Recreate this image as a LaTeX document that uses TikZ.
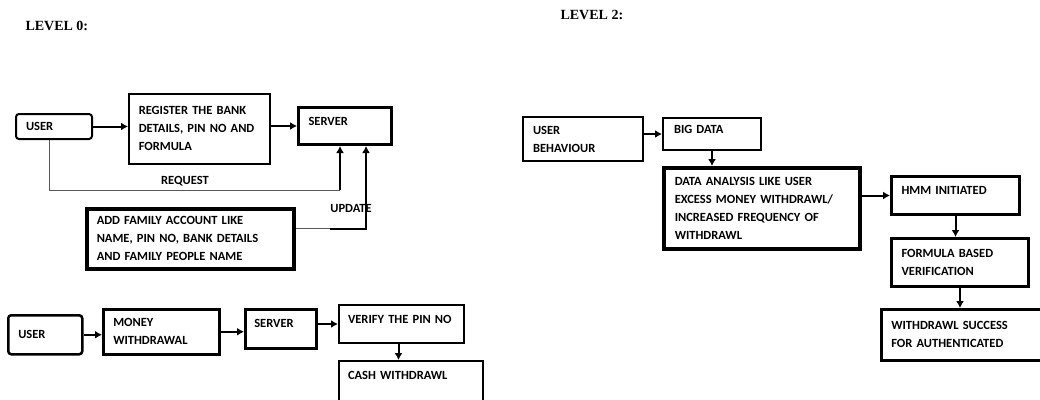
\documentclass[tikz,border=0pt]{standalone}
\usepackage{fontspec}
\setmainfont{Carlito}
\newfontfamily\levelfont{Liberation Serif}
\usetikzlibrary{arrows.meta}

\begin{document}
\begin{tikzpicture}[x=1pt, y=-1pt,
    box/.style={draw, anchor=north west, align=left, inner xsep=10pt,
      font=\fontsize{12.5}{18}\selectfont\bfseries},
    upper/.style={text depth=10pt},
    lbl/.style={font=\fontsize{12.5}{18}\selectfont\bfseries},
    lvl/.style={anchor=west, font=\levelfont\bfseries\fontsize{14}{16}\selectfont},
    arr/.style={line width=2pt, -{Latex[length=7pt,width=8pt]}},
    thinline/.style={draw=black!65, line width=1pt}]
  \useasboundingbox (0,0) rectangle (1040,399);

  \node [lvl] (lvlzero) at (22,26) {LEVEL 0:};
  \node [lvl] (lvltwo) at (557,15) {LEVEL 2:};

  % level 0, registration
  \node [box, line width=2pt, rounded corners=3pt, minimum width=76pt, minimum height=25pt, text width=56pt] (userA) at (15,113) {USER};
  \node [box, line width=1.5pt, minimum width=141pt, minimum height=70pt, text width=121pt] (regA) at (128,93) {REGISTER THE BANK\\DETAILS, PIN NO AND\\FORMULA};
  \node [box, upper, line width=3pt, minimum width=93pt, minimum height=37pt, text width=73pt, inner xsep=8pt] (serverA) at (297,106) {SERVER};
  \node [box, line width=3.5pt, minimum width=207pt, minimum height=60pt, text width=187pt] (addA) at (85,207) {ADD FAMILY ACCOUNT LIKE\\NAME, PIN NO, BANK DETAILS\\AND FAMILY PEOPLE NAME};

  \draw [arr] (userA.east) -- (userA.east -| regA.west);
  \draw [arr] (regA.east |- serverA.west) -- (serverA.west);

  \coordinate (reqbend) at (340,190);
  \draw [thinline] ([shift={(-5,0)}]userA.south) |- (reqbend);
  \draw [arr] (reqbend) -- (reqbend |- serverA.south);
  \node [lbl] (req) at (185,181) {REQUEST};

  \draw [thinline] ([shift={(0,-10)}]addA.east) -- ++(34,0) coordinate (updbend);
  \draw [arr] (updbend) -| ([shift={(21,0)}]serverA.south);
  \node [lbl] (upd) at (351,208.5) {UPDATE};

  % level 0, withdrawal
  \node [box, line width=2.5pt, rounded corners=3pt, minimum width=74pt, minimum height=39pt, text width=54pt] (userB) at (7,314) {USER};
  \node [box, line width=2.5pt, minimum width=116pt, minimum height=45pt, text width=96pt] (moneyA) at (102,308) {MONEY\\WITHDRAWAL};
  \node [box, upper, line width=2.5pt, minimum width=71pt, minimum height=39pt, text width=53pt, inner xsep=9pt] (serverB) at (244,308) {SERVER};
  \node [box, upper, line width=2pt, minimum width=125pt, minimum height=38pt, text width=107pt, inner xsep=9pt] (verifyA) at (338,304) {VERIFY THE PIN NO};
  \node [box, line width=2pt, text height=16pt, text depth=40pt, inner ysep=2pt, minimum width=144pt, text width=126pt, inner xsep=9pt] (cashA) at (338,360) {CASH WITHDRAWL};

  \draw [arr] (userB.east) -- (userB.east -| moneyA.west);
  \draw [arr] (moneyA.east) -- (moneyA.east -| serverB.west);
  \draw [arr] (serverB.east |- verifyA.west) -- (verifyA.west);
  \draw [arr] ([shift={(-3,0)}]verifyA.south) -- ([shift={(-3,0)}]verifyA.south |- cashA.north);

  % level 2
  \node [box, line width=2pt, minimum width=120pt, minimum height=44pt, text width=100pt] (behavA) at (522,116) {USER\\BEHAVIOUR};
  \node [box, upper, line width=2pt, minimum width=98pt, minimum height=32pt, text width=76pt, inner xsep=11pt] (bigA) at (662,117) {BIG DATA};
  \node [box, line width=3.5pt, minimum width=196pt, minimum height=81pt, text width=174pt, inner xsep=11pt] (anaA) at (662,166) {DATA ANALYSIS LIKE USER\\EXCESS MONEY WITHDRAWL/\\INCREASED FREQUENCY OF\\WITHDRAWL};
  \node [box, upper, line width=3pt, minimum width=128pt, minimum height=38pt, text width=108pt] (hmmA) at (890,175) {HMM INITIATED};
  \node [box, line width=3pt, minimum width=137pt, minimum height=48pt, text width=117pt] (formA) at (890,237) {FORMULA BASED\\VERIFICATION};
  \node [box, line width=2.5pt, minimum width=170pt, minimum height=51pt, text width=150pt] (succA) at (880,308) {WITHDRAWL SUCCESS\\FOR AUTHENTICATED};

  \draw [arr] (behavA.east |- bigA.west) -- (bigA.west);
  \draw [arr] (bigA.south) -- (bigA.south |- anaA.north);
  \draw [arr] (anaA.east |- hmmA.west) -- (hmmA.west);
  \draw [arr] (hmmA.south) -- (hmmA.south |- formA.north);
  \draw [arr] (formA.south) -- (formA.south |- succA.north);
\end{tikzpicture}
\end{document}
